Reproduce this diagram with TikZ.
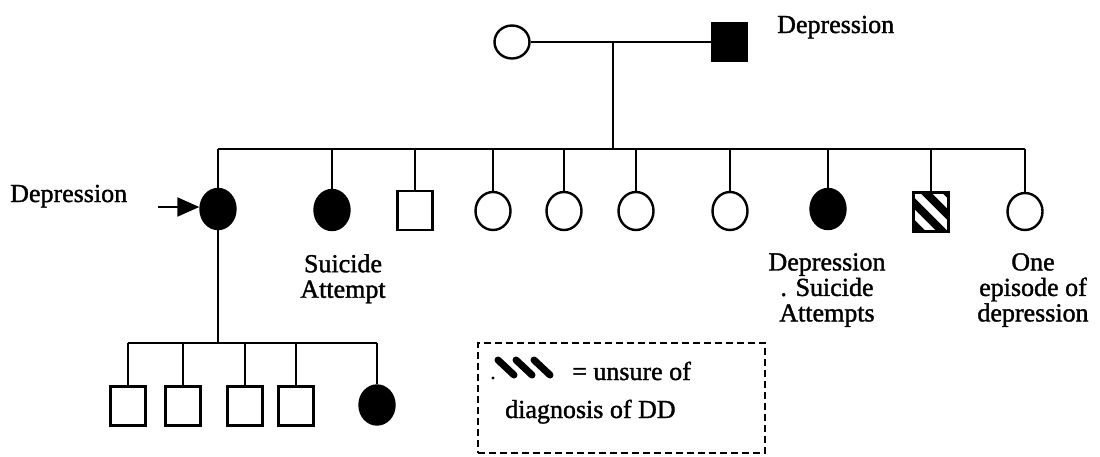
\documentclass[tikz,border=0pt]{standalone}
\usepackage{fontspec}
\setmainfont{Liberation Serif}
\newfontfamily\inkfont{Liberation Serif}[FakeBold=1.4]
\usetikzlibrary{shapes.geometric,arrows.meta}
\begin{document}
\begin{tikzpicture}[x=1pt,y=-1pt,
  link/.style={line width=2.2pt},
  female/.style={ellipse,draw,line width=2.4pt,minimum width=35pt,minimum height=38pt,inner sep=0pt},
  male/.style={rectangle,draw,line width=2.4pt,minimum width=35pt,minimum height=39pt,inner sep=0pt},
  affected/.style={fill=black},
  lbl/.style={font=\inkfont\fontsize{26}{25.5}\selectfont,inner sep=0pt,align=center}]
\useasboundingbox (0,0) rectangle (1100,456);

% parents
\node[female,minimum height=33pt] (gm) at (512,42) {};
\node[male,affected,minimum height=38pt] (gf) at (729.5,42) {};
\coordinate (mid) at (613,42);
\coordinate (sib) at (613,149);
\draw[link] (gm) -- (gf);
\draw[link] (mid) -- (sib);
\node[lbl,anchor=base west] (dtop) at (777,33) {Depression};

% children
\node[female,affected,minimum height=40pt] (c1) at (218,209) {};
\node[female,affected,minimum height=40pt] (c2) at (332,210) {};
\node[male] (c3) at (415,210.5) {};
\node[female] (c4) at (493,211) {};
\node[female] (c5) at (564,211) {};
\node[female] (c6) at (636,211) {};
\node[female] (c7) at (730,211) {};
\node[female,affected,minimum height=40pt] (c8) at (828,209) {};
% hatched square: status uncertain
\coordinate (hc) at (931,212);
\begin{scope}
  \clip ([shift={(-18,-20)}]hc) rectangle ([shift={(18,20)}]hc);
  \foreach \c in {-30,-8,14,36}
    \draw[line width=8pt] ([shift={({\c-30},-30)}]hc) -- ++(60,60);
\end{scope}
\node[male,line width=3pt] (c9) at (hc) {};
\node[female,minimum height=37pt] (c10) at (1025,211.5) {};

\draw[link] (c1.north |- sib) -- (c10.north |- sib);
\foreach \n in {c1,c2,c3,c4,c5,c6,c7,c8,c9,c10}
  \draw[link] (\n.north) -- (\n.north |- sib);

% proband arrow
\coordinate (arr) at (158,207);
\draw[link,-{Triangle[length=22pt,width=19pt]}] (arr) -- (c1.west |- arr);
\node[lbl,anchor=base west] (dleft) at (10,202) {Depression};

% labels under the sibship
\node[lbl,anchor=north] (l2) at (343,254) {Suicide\\Attempt};
\node[lbl,anchor=north] (l8) at (827,253) {Depression\\. Suicide\\Attempts};
\node[lbl,anchor=north] (l10) at (1033,253) {One\\episode of\\depression};

% grandchildren
\coordinate (kid) at (215,343);
\node[male] (g1) at (128,406) {};
\node[male] (g2) at (183,406) {};
\node[male] (g3) at (245,406) {};
\node[male] (g4) at (296,406) {};
\node[female,affected,minimum height=39pt] (g5) at (377,405) {};
\draw[link] (c1.south) -- (c1.south |- kid);
\draw[link] (g1.north |- kid) -- (g5.north |- kid);
\foreach \n in {g1,g2,g3,g4,g5}
  \draw[link] (\n.north) -- (\n.north |- kid);

% legend
\node[draw,line width=2pt,dash pattern=on 7pt off 4pt,minimum width=287pt,minimum height=110pt,inner sep=0pt] (legend) at (621.5,398) {};
\foreach \k in {0,1,2}
  \draw[line width=7pt,line cap=round] ({498+18*\k},360) -- ++(16,15);
\fill (493,378) circle (1.7pt);
\node[lbl,anchor=base west] (k1) at (572,380) {= unsure of};
\node[lbl,anchor=base west] (k2) at (505,418) {diagnosis of DD};
\end{tikzpicture}
\end{document}
